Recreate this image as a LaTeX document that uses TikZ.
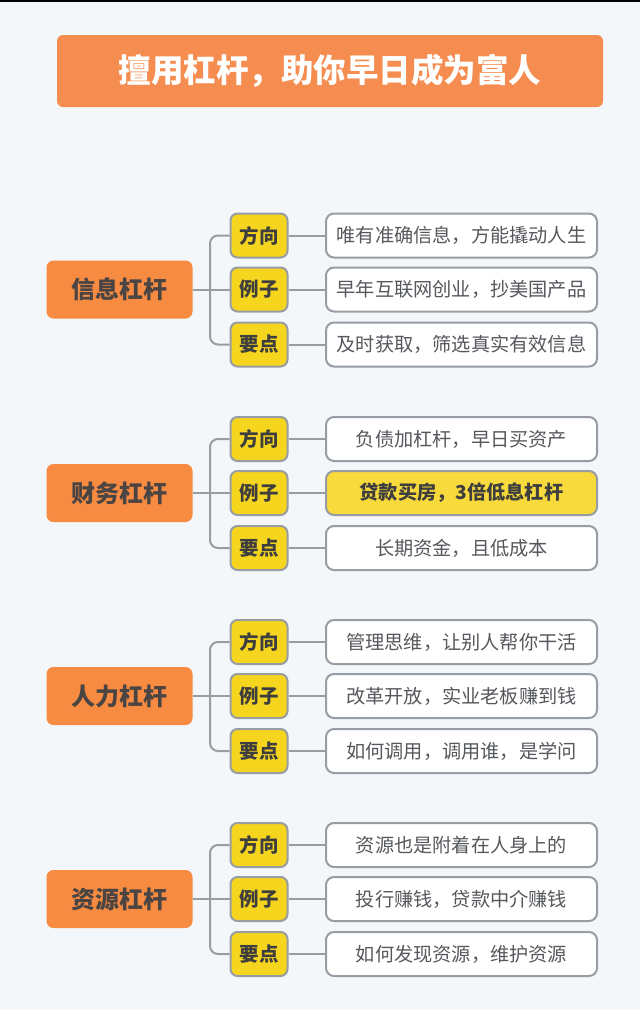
\documentclass[tikz,border=0pt]{standalone}
\usepackage{fontspec}
\setmainfont{Noto Sans CJK SC}
\usetikzlibrary{positioning}
\definecolor{bgc}{HTML}{F4F7FA}
\definecolor{titlec}{HTML}{F58D50}
\definecolor{rootc}{HTML}{F78B42}
\definecolor{subc}{HTML}{F6D51F}
\definecolor{hlc}{HTML}{F8DA3C}
\definecolor{linec}{HTML}{979DA3}
\definecolor{subtxt}{HTML}{3E3E3E}
\definecolor{roottxt}{HTML}{4A4542}
\definecolor{leaftxt}{HTML}{55585C}
\tikzset{
  titlebox/.style={fill=titlec, rounded corners=6pt, minimum width=546pt, minimum height=72pt,
    text=white, font=\bfseries\fontsize{32.5}{36}\selectfont, inner sep=0pt},
  rootbox/.style={fill=rootc, rounded corners=7pt, minimum width=146pt, minimum height=58pt,
    text=roottxt, font=\bfseries\fontsize{24}{27}\selectfont, inner sep=0pt},
  subbox/.style={fill=subc, draw=linec, line width=2pt, rounded corners=7pt, minimum width=57pt,
    minimum height=44pt, text=subtxt, font=\bfseries\fontsize{19.5}{22}\selectfont, inner sep=0pt},
  leafbox/.style={fill=white, draw=linec, line width=2pt, rounded corners=8pt, minimum width=271pt,
    minimum height=44pt, text=leaftxt, font=\fontsize{19.2}{22}\selectfont, inner sep=0pt},
  hlbox/.style={leafbox, fill=hlc, text=subtxt, font=\bfseries\fontsize{19.2}{22}\selectfont},
  conn/.style={draw=linec, line width=2pt},
}
\begin{document}
\begin{tikzpicture}[x=1pt, y=-1pt]
\fill[bgc] (0,0) rectangle (640,1010);
\useasboundingbox (0,0) rectangle (640,1010);
\fill[black] (0,0) rectangle (640,2);
\node[titlebox] (title) at (330,71) {擅用杠杆，助你早日成为富人};
% groups: index / root y / label / leaf1 / leaf2 / leaf3
\foreach \g/\cy/\rt/\la/\lb/\lc/\hl in {
  1/289.5/信息杠杆/唯有准确信息，方能撬动人生/早年互联网创业，抄美国产品/及时获取，筛选真实有效信息/leafbox,
  2/493/财务杠杆/负债加杠杆，早日买资产/贷款买房，3倍低息杠杆/长期资金，且低成本/hlbox,
  3/696/人力杠杆/管理思维，让别人帮你干活/改革开放，实业老板赚到钱/如何调用，调用谁，是学问/leafbox,
  4/899/资源杠杆/资源也是附着在人身上的/投行赚钱，贷款中介赚钱/如何发现资源，维护资源/leafbox}{
  \node[rootbox] (r\g) at (119.5,\cy) {\rt};
  \node[subbox] (s\g a) at (259,\cy-54) {方向};
  \node[subbox] (s\g b) at (259,\cy) {例子};
  \node[subbox] (s\g c) at (259,\cy+55) {要点};
  \node[leafbox] (l\g a) at (461.5,\cy-54) {\la};
  \node[\hl] (l\g b) at (461.5,\cy) {\lb};
  \node[leafbox] (l\g c) at (461.5,\cy+55) {\lc};
  \coordinate (k\g) at (210,\cy);
  \draw[conn] (r\g.east) -- (s\g b.west);
  \draw[conn, rounded corners=8pt] (s\g a.west) -| (k\g) |- (s\g c.west);
  \draw[conn] (s\g a.east) -- (l\g a.west);
  \draw[conn] (s\g b.east) -- (l\g b.west);
  \draw[conn] (s\g c.east) -- (l\g c.west);
}
\end{tikzpicture}
\end{document}
